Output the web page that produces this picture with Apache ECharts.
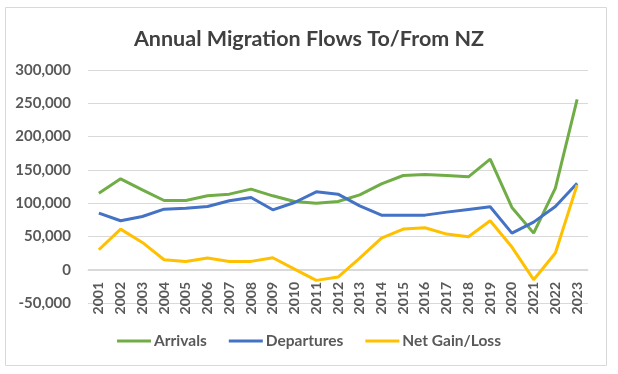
<!DOCTYPE html>
<html>
<head>
<meta charset="utf-8">
<script src="https://cdn.jsdelivr.net/npm/echarts@6/dist/echarts.min.js"></script>
<style>html,body{margin:0;padding:0;background:#fff}#c{width:618px;height:374px}</style>
</head>
<body>
<div id="c"></div>
<script>
const years = ['2001','2002','2003','2004','2005','2006','2007','2008','2009','2010','2011','2012','2013','2014','2015','2016','2017','2018','2019','2020','2021','2022','2023'];
const arrivals = [115000,136500,120000,104000,104000,111000,113500,121000,111000,102500,100000,102500,112500,129000,141500,143000,141500,139500,166000,93500,55000,122500,256000];
const departures = [85000,73500,80000,91000,92500,95000,103500,108500,90000,101000,117000,113500,96000,82000,82000,82000,86500,90500,94500,55000,71500,95000,130000];
const netGain = [30000,61000,41000,15000,12500,17500,12500,12500,18000,1000,-16000,-11000,17500,47500,61000,63000,53500,49500,73500,34000,-15000,25000,127500];
const yMin = -50000, yMax = 300000, yStep = 50000;

const font = 'Lato, "Liberation Sans", Arial, sans-serif';
const chart = echarts.init(document.getElementById('c'));
function ln(name, data, color) {
  return {name, type:'line', data, symbol:'none', smooth:false,
    lineStyle:{width:3, color}, itemStyle:{color}};
}
chart.setOption({
  animation:false,
  title:{text:'Annual Migration Flows To/From NZ', left:'center', top:23,
    textStyle:{fontFamily:font, fontSize:21.5, fontWeight:'bold', color:'#404040'}},
  graphic:[{type:'rect', shape:{x:5.5,y:7.5,width:601,height:358},
    style:{fill:'none', stroke:'#d9d9d9', lineWidth:1}}],
  grid:{left:88, right:30, top:70, bottom:71},
  legend:{bottom:20, left:'center', icon:'rect', itemWidth:34, itemHeight:3, itemGap:22,
    textStyle:{fontFamily:font, fontSize:15.5, fontWeight:'bold', color:'#595959', padding:[0,0,0,-2]}},
  xAxis:{type:'category', data:years, boundaryGap:true, offset:-33,
    axisLine:{onZero:false, lineStyle:{color:'#d9d9d9'}},
    axisTick:{show:false},
    axisLabel:{rotate:90, margin:12, interval:0, fontFamily:font, fontSize:14, fontWeight:'bold', color:'#595959'}},
  yAxis:{type:'value', min:yMin, max:yMax, interval:yStep,
    axisLine:{show:false}, axisTick:{show:false},
    splitLine:{lineStyle:{color:'#d9d9d9'}},
    axisLabel:{margin:17, fontFamily:font, fontSize:15, fontWeight:'bold', color:'#595959',
      formatter:v=>v.toLocaleString('en-US')}},
  series:[ln('Arrivals', arrivals, '#70AD47'), ln('Departures', departures, '#4472C4'), ln('Net Gain/Loss', netGain, '#FFC000')]
});
</script>
</body>
</html>
